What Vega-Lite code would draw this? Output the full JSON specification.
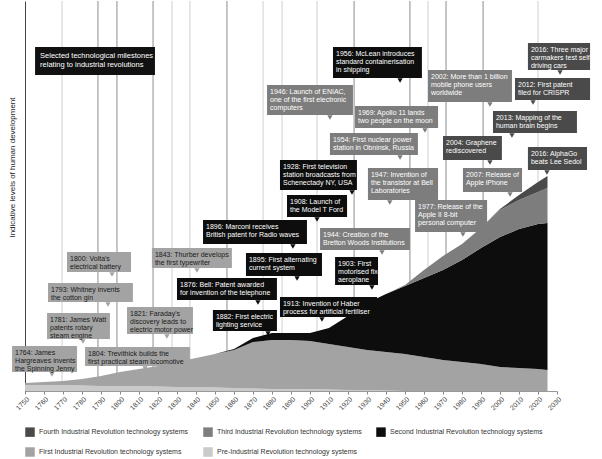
{
  "$schema": "https://vega.github.io/schema/vega-lite/v6.json",
  "width": 532,
  "height": 390,
  "autosize": {"type": "none"},
  "padding": {"left": 25, "top": 1, "right": 45, "bottom": 68},
  "background": "white",
  "config": {
    "view": {"stroke": null},
    "font": "Liberation Sans",
    "axisX": {"format": "d", "labelAngle": -45, "labelFontSize": 7, "labelColor": "#444444", "tickSize": 3, "tickColor": "#888888", "domainColor": "#999999", "labelPadding": 1, "grid": false, "labelFlush": false, "labelOverlap": false, "tickCount": 40},
    "axisY": {"labels": false, "ticks": false, "grid": false, "domainColor": "#444444", "titleFontSize": 8, "titleFontWeight": "normal", "titleColor": "#222222", "titlePadding": 9, "titleY": 166},
    "legend": {"labelFontSize": 7, "labelColor": "#333333", "symbolType": "square", "symbolSize": 90, "symbolStrokeWidth": 0, "columnPadding": 14, "rowPadding": 10, "labelLimit": 300}
  },
  "datasets": {
    "grid_dark": [{"year": 1788.4}, {"year": 1798.4}, {"year": 1817.4}, {"year": 1856.3}, {"year": 1923.2}, {"year": 1952.6}, {"year": 1971.6}, {"year": 1991.1}],
    "grid_light": [{"year": 1769.5}, {"year": 1827.4}, {"year": 1836.8}, {"year": 1875.3}, {"year": 1885.3}, {"year": 1903.7}, {"year": 1962.1}, {"year": 2020}],
    "areas": [
      {"year":1750,"era":"Pre-Industrial Revolution technology systems","rank":0,"level":6},
      {"year":1760,"era":"Pre-Industrial Revolution technology systems","rank":0,"level":6},
      {"year":1770,"era":"Pre-Industrial Revolution technology systems","rank":0,"level":6},
      {"year":1780,"era":"Pre-Industrial Revolution technology systems","rank":0,"level":5.5},
      {"year":1790,"era":"Pre-Industrial Revolution technology systems","rank":0,"level":5},
      {"year":1800,"era":"Pre-Industrial Revolution technology systems","rank":0,"level":5},
      {"year":1810,"era":"Pre-Industrial Revolution technology systems","rank":0,"level":5},
      {"year":1820,"era":"Pre-Industrial Revolution technology systems","rank":0,"level":4.5},
      {"year":1830,"era":"Pre-Industrial Revolution technology systems","rank":0,"level":4},
      {"year":1840,"era":"Pre-Industrial Revolution technology systems","rank":0,"level":4},
      {"year":1850,"era":"Pre-Industrial Revolution technology systems","rank":0,"level":3.5},
      {"year":1860,"era":"Pre-Industrial Revolution technology systems","rank":0,"level":3},
      {"year":1870,"era":"Pre-Industrial Revolution technology systems","rank":0,"level":2.5},
      {"year":1880,"era":"Pre-Industrial Revolution technology systems","rank":0,"level":2},
      {"year":1890,"era":"Pre-Industrial Revolution technology systems","rank":0,"level":2},
      {"year":1900,"era":"Pre-Industrial Revolution technology systems","rank":0,"level":2},
      {"year":1910,"era":"Pre-Industrial Revolution technology systems","rank":0,"level":1.5},
      {"year":1920,"era":"Pre-Industrial Revolution technology systems","rank":0,"level":1},
      {"year":1930,"era":"Pre-Industrial Revolution technology systems","rank":0,"level":1},
      {"year":1940,"era":"Pre-Industrial Revolution technology systems","rank":0,"level":0.5},
      {"year":1950,"era":"Pre-Industrial Revolution technology systems","rank":0,"level":0},
      {"year":1960,"era":"Pre-Industrial Revolution technology systems","rank":0,"level":0},
      {"year":1970,"era":"Pre-Industrial Revolution technology systems","rank":0,"level":0},
      {"year":1980,"era":"Pre-Industrial Revolution technology systems","rank":0,"level":0},
      {"year":1990,"era":"Pre-Industrial Revolution technology systems","rank":0,"level":0},
      {"year":2000,"era":"Pre-Industrial Revolution technology systems","rank":0,"level":0},
      {"year":2010,"era":"Pre-Industrial Revolution technology systems","rank":0,"level":0},
      {"year":2020,"era":"Pre-Industrial Revolution technology systems","rank":0,"level":0},
      {"year":2025,"era":"Pre-Industrial Revolution technology systems","rank":0,"level":0},
      {"year":1750,"era":"First Industrial Revolution technology systems","rank":1,"level":2},
      {"year":1760,"era":"First Industrial Revolution technology systems","rank":1,"level":3},
      {"year":1770,"era":"First Industrial Revolution technology systems","rank":1,"level":4},
      {"year":1780,"era":"First Industrial Revolution technology systems","rank":1,"level":6.5},
      {"year":1790,"era":"First Industrial Revolution technology systems","rank":1,"level":10},
      {"year":1800,"era":"First Industrial Revolution technology systems","rank":1,"level":14},
      {"year":1810,"era":"First Industrial Revolution technology systems","rank":1,"level":17},
      {"year":1820,"era":"First Industrial Revolution technology systems","rank":1,"level":20.5},
      {"year":1830,"era":"First Industrial Revolution technology systems","rank":1,"level":25},
      {"year":1840,"era":"First Industrial Revolution technology systems","rank":1,"level":29},
      {"year":1850,"era":"First Industrial Revolution technology systems","rank":1,"level":33.5},
      {"year":1860,"era":"First Industrial Revolution technology systems","rank":1,"level":38},
      {"year":1870,"era":"First Industrial Revolution technology systems","rank":1,"level":46.5},
      {"year":1880,"era":"First Industrial Revolution technology systems","rank":1,"level":49},
      {"year":1890,"era":"First Industrial Revolution technology systems","rank":1,"level":49},
      {"year":1900,"era":"First Industrial Revolution technology systems","rank":1,"level":48},
      {"year":1910,"era":"First Industrial Revolution technology systems","rank":1,"level":45.5},
      {"year":1920,"era":"First Industrial Revolution technology systems","rank":1,"level":43},
      {"year":1930,"era":"First Industrial Revolution technology systems","rank":1,"level":40},
      {"year":1940,"era":"First Industrial Revolution technology systems","rank":1,"level":38.5},
      {"year":1950,"era":"First Industrial Revolution technology systems","rank":1,"level":37},
      {"year":1960,"era":"First Industrial Revolution technology systems","rank":1,"level":34},
      {"year":1970,"era":"First Industrial Revolution technology systems","rank":1,"level":31},
      {"year":1980,"era":"First Industrial Revolution technology systems","rank":1,"level":29},
      {"year":1990,"era":"First Industrial Revolution technology systems","rank":1,"level":27},
      {"year":2000,"era":"First Industrial Revolution technology systems","rank":1,"level":24},
      {"year":2010,"era":"First Industrial Revolution technology systems","rank":1,"level":23},
      {"year":2020,"era":"First Industrial Revolution technology systems","rank":1,"level":22},
      {"year":2025,"era":"First Industrial Revolution technology systems","rank":1,"level":21},
      {"year":1750,"era":"Second Industrial Revolution technology systems","rank":2,"level":0},
      {"year":1760,"era":"Second Industrial Revolution technology systems","rank":2,"level":0},
      {"year":1770,"era":"Second Industrial Revolution technology systems","rank":2,"level":0},
      {"year":1780,"era":"Second Industrial Revolution technology systems","rank":2,"level":0},
      {"year":1790,"era":"Second Industrial Revolution technology systems","rank":2,"level":0},
      {"year":1800,"era":"Second Industrial Revolution technology systems","rank":2,"level":0},
      {"year":1810,"era":"Second Industrial Revolution technology systems","rank":2,"level":0},
      {"year":1820,"era":"Second Industrial Revolution technology systems","rank":2,"level":0},
      {"year":1830,"era":"Second Industrial Revolution technology systems","rank":2,"level":0},
      {"year":1840,"era":"Second Industrial Revolution technology systems","rank":2,"level":0},
      {"year":1850,"era":"Second Industrial Revolution technology systems","rank":2,"level":0},
      {"year":1860,"era":"Second Industrial Revolution technology systems","rank":2,"level":1},
      {"year":1870,"era":"Second Industrial Revolution technology systems","rank":2,"level":4},
      {"year":1880,"era":"Second Industrial Revolution technology systems","rank":2,"level":7},
      {"year":1890,"era":"Second Industrial Revolution technology systems","rank":2,"level":7},
      {"year":1900,"era":"Second Industrial Revolution technology systems","rank":2,"level":8},
      {"year":1910,"era":"Second Industrial Revolution technology systems","rank":2,"level":16},
      {"year":1920,"era":"Second Industrial Revolution technology systems","rank":2,"level":31},
      {"year":1930,"era":"Second Industrial Revolution technology systems","rank":2,"level":47},
      {"year":1940,"era":"Second Industrial Revolution technology systems","rank":2,"level":58},
      {"year":1950,"era":"Second Industrial Revolution technology systems","rank":2,"level":68},
      {"year":1960,"era":"Second Industrial Revolution technology systems","rank":2,"level":79},
      {"year":1970,"era":"Second Industrial Revolution technology systems","rank":2,"level":90},
      {"year":1980,"era":"Second Industrial Revolution technology systems","rank":2,"level":102},
      {"year":1990,"era":"Second Industrial Revolution technology systems","rank":2,"level":116},
      {"year":2000,"era":"Second Industrial Revolution technology systems","rank":2,"level":130},
      {"year":2010,"era":"Second Industrial Revolution technology systems","rank":2,"level":139},
      {"year":2020,"era":"Second Industrial Revolution technology systems","rank":2,"level":145},
      {"year":2025,"era":"Second Industrial Revolution technology systems","rank":2,"level":147},
      {"year":1940,"era":"Third Industrial Revolution technology systems","rank":3,"level":0},
      {"year":1950,"era":"Third Industrial Revolution technology systems","rank":3,"level":1},
      {"year":1960,"era":"Third Industrial Revolution technology systems","rank":3,"level":8},
      {"year":1970,"era":"Third Industrial Revolution technology systems","rank":3,"level":14},
      {"year":1980,"era":"Third Industrial Revolution technology systems","rank":3,"level":16},
      {"year":1990,"era":"Third Industrial Revolution technology systems","rank":3,"level":20},
      {"year":2000,"era":"Third Industrial Revolution technology systems","rank":3,"level":27},
      {"year":2010,"era":"Third Industrial Revolution technology systems","rank":3,"level":29},
      {"year":2020,"era":"Third Industrial Revolution technology systems","rank":3,"level":32},
      {"year":2025,"era":"Third Industrial Revolution technology systems","rank":3,"level":35},
      {"year":1990,"era":"Fourth Industrial Revolution technology systems","rank":4,"level":0},
      {"year":2000,"era":"Fourth Industrial Revolution technology systems","rank":4,"level":1},
      {"year":2010,"era":"Fourth Industrial Revolution technology systems","rank":4,"level":5},
      {"year":2020,"era":"Fourth Industrial Revolution technology systems","rank":4,"level":10},
      {"year":2025,"era":"Fourth Industrial Revolution technology systems","rank":4,"level":12}
    ],
    "notes": [
      {"era":"First Industrial Revolution technology systems","x1":1743.2,"x2":1777.4,"top":45,"bottom":19,"ptr":1764.2,"lines":["1764: James","Hargreaves invents","the Spinning Jenny"]},
      {"era":"First Industrial Revolution technology systems","x1":1761.6,"x2":1794.7,"top":78,"bottom":52,"ptr":1780.5,"lines":["1781: James Watt","patents rotary","steam engine"]},
      {"era":"First Industrial Revolution technology systems","x1":1762.1,"x2":1806.8,"top":108,"bottom":89,"ptr":1793.7,"lines":["1793: Whitney invents","the cotton gin"]},
      {"era":"First Industrial Revolution technology systems","x1":1772.1,"x2":1805.8,"top":139,"bottom":119,"ptr":1795.8,"lines":["1800: Volta's","electrical battery"]},
      {"era":"First Industrial Revolution technology systems","x1":1781.6,"x2":1836.8,"top":44,"bottom":25,"ptr":1813.2,"lines":["1804: Trevithick builds the","first practical steam locomotive"]},
      {"era":"First Industrial Revolution technology systems","x1":1803.7,"x2":1838.4,"top":84,"bottom":57,"ptr":1824.7,"lines":["1821: Faraday's","discovery leads to","electric motor power"]},
      {"era":"First Industrial Revolution technology systems","x1":1816.8,"x2":1858.9,"top":143,"bottom":123,"ptr":1840.5,"lines":["1843: Thurber develops","the first typewriter"]},
      {"era":"Second Industrial Revolution technology systems","x1":1843.7,"x2":1898.4,"top":171,"bottom":147,"ptr":1891,"lines":["1896: Marconi receives","British patent for Radio waves"]},
      {"era":"Second Industrial Revolution technology systems","x1":1866.3,"x2":1906.3,"top":138,"bottom":115,"ptr":1893.2,"lines":["1895: First alternating","current system"]},
      {"era":"Second Industrial Revolution technology systems","x1":1830,"x2":1882.6,"top":113,"bottom":91,"ptr":1872.6,"lines":["1876: Bell: Patent awarded","for invention of the telephone"]},
      {"era":"Second Industrial Revolution technology systems","x1":1848.9,"x2":1882.6,"top":81,"bottom":60,"ptr":1877.9,"lines":["1882: First electric","lighting service"]},
      {"era":"Second Industrial Revolution technology systems","x1":1887.9,"x2":1919.5,"top":196,"bottom":174,"ptr":1903.7,"lines":["1908: Launch of","the Model T Ford"]},
      {"era":"Second Industrial Revolution technology systems","x1":1884.2,"x2":1924.7,"top":231,"bottom":201,"ptr":1922.1,"lines":["1928: First television","station broadcasts from","Schenectady NY, USA"]},
      {"era":"Second Industrial Revolution technology systems","x1":1884.2,"x2":1935.3,"top":94,"bottom":74,"ptr":1906.3,"lines":["1913: Invention of Haber","process for artificial fertiliser"]},
      {"era":"Second Industrial Revolution technology systems","x1":1913.2,"x2":1935.8,"top":134,"bottom":106,"ptr":1932.6,"lines":["1903: First","motorised fixed","aeroplane"]},
      {"era":"Second Industrial Revolution technology systems","x1":1912.1,"x2":1958.9,"top":344,"bottom":313,"ptr":1947.4,"lines":["1956: McLean introduces","standard containerisation","in shipping"]},
      {"era":"Third Industrial Revolution technology systems","x1":1877.4,"x2":1922.6,"top":306,"bottom":276,"ptr":1910.5,"lines":["1946: Launch of ENIAC,","one of the first electronic","computers"]},
      {"era":"Third Industrial Revolution technology systems","x1":1923.7,"x2":1967.4,"top":285,"bottom":263,"ptr":1960.5,"lines":["1969: Apollo 11 lands","two people on the moon"]},
      {"era":"Third Industrial Revolution technology systems","x1":1910.5,"x2":1956.8,"top":258,"bottom":236,"ptr":1947.4,"lines":["1954: First nuclear power","station in Obninsk, Russia"]},
      {"era":"Third Industrial Revolution technology systems","x1":1930.5,"x2":1967.4,"top":223,"bottom":191,"ptr":1942,"lines":["1947: Invention of","the transistor at Bell","Laboratories"]},
      {"era":"Third Industrial Revolution technology systems","x1":1905.3,"x2":1952.6,"top":163,"bottom":141,"ptr":1937.9,"lines":["1944: Creation of the","Bretton Woods Institutions"]},
      {"era":"Third Industrial Revolution technology systems","x1":1955.3,"x2":1993.2,"top":191,"bottom":159,"ptr":1980.5,"lines":["1977: Release of the","Apple II 8-bit","personal computer"]},
      {"era":"Third Industrial Revolution technology systems","x1":1962.1,"x2":2006.3,"top":321,"bottom":289,"ptr":1994.7,"lines":["2002: More than 1 billion","mobile phone users","worldwide"]},
      {"era":"Fourth Industrial Revolution technology systems","x1":1970,"x2":2001,"top":255,"bottom":231,"ptr":1994.7,"lines":["2004: Graphene","rediscovered"]},
      {"era":"Third Industrial Revolution technology systems","x1":1980.5,"x2":2011.6,"top":223,"bottom":199,"ptr":2005.3,"lines":["2007: Release of","Apple iPhone"]},
      {"era":"Fourth Industrial Revolution technology systems","x1":1996.3,"x2":2040.5,"top":280,"bottom":258,"ptr":2006.3,"lines":["2013: Mapping of the","human brain begins"]},
      {"era":"Fourth Industrial Revolution technology systems","x1":2007.9,"x2":2047.4,"top":313,"bottom":291,"ptr":2017.4,"lines":["2012: First patent","filed for CRISPR"]},
      {"era":"Fourth Industrial Revolution technology systems","x1":2014.7,"x2":2047.4,"top":348,"bottom":321,"ptr":2031.6,"lines":["2016: Three major","carmakers test self-","driving cars"]},
      {"era":"Fourth Industrial Revolution technology systems","x1":2014.7,"x2":2045.8,"top":244,"bottom":221,"ptr":2024.7,"lines":["2016: AlphaGo","beats Lee Sedol"]}
    ],
    "titlebox": [
      {"x1":1755.3,"x2":1818.4,"top":344,"bottom":316,"lines":["Selected technological milestones","relating to industrial revolutions"]}
    ]
  },
  "layer": [
    {
      "data": {"name": "grid_light"},
      "mark": {"type": "rule", "color": "#cfcfcf", "strokeWidth": 1},
      "encoding": {"x": {"field": "year", "type": "quantitative", "scale": {"domain": [1750, 2030], "nice": false, "zero": false}, "title": null, "axis": {"values": [1750,1760,1770,1780,1790,1800,1810,1820,1830,1840,1850,1860,1870,1880,1890,1900,1910,1920,1930,1940,1950,1960,1970,1980,1990,2000,2010,2020,2030], "tickCount": 40, "labelOverlap": false, "labelAngle": -45, "format": "d"}}}
    },
    {
      "data": {"name": "grid_dark"},
      "mark": {"type": "rule", "color": "#8c8c8c", "strokeWidth": 1},
      "encoding": {"x": {"field": "year", "type": "quantitative", "title": null}}
    },
    {
      "data": {"name": "areas"},
      "mark": {"type": "area", "interpolate": "linear"},
      "encoding": {
        "x": {"field": "year", "type": "quantitative", "title": null},
        "y": {"field": "level", "type": "quantitative", "stack": "zero", "scale": {"domain": [0, 390], "nice": false}, "title": "Indicative levels of human development"},
        "order": {"field": "rank", "type": "quantitative"},
        "color": {"field": "era", "type": "nominal", "scale": {"domain": ["Fourth Industrial Revolution technology systems", "Third Industrial Revolution technology systems", "Second Industrial Revolution technology systems", "First Industrial Revolution technology systems", "Pre-Industrial Revolution technology systems"], "range": ["#4a4a4a", "#7d7d7d", "#0d0d0d", "#a3a3a3", "#cacaca"]}, "legend": {"orient": "bottom", "direction": "horizontal", "columns": 3, "title": null, "offset": 16}}
      }
    },
    {
      "data": {"name": "notes"},
      "mark": {"type": "rect"},
      "encoding": {
        "x": {"field": "x1", "type": "quantitative", "title": null},
        "x2": {"field": "x2"},
        "y": {"field": "top", "type": "quantitative", "title": "Indicative levels of human development"},
        "y2": {"field": "bottom"},
        "color": {"field": "era", "type": "nominal"}
      }
    },
    {
      "data": {"name": "notes"},
      "mark": {"type": "point", "shape": "triangle-down", "filled": true, "opacity": 1, "size": 28, "yOffset": 2.5},
      "encoding": {
        "x": {"field": "ptr", "type": "quantitative", "title": null},
        "y": {"field": "bottom", "type": "quantitative", "title": "Indicative levels of human development"},
        "color": {"field": "era", "type": "nominal"}
      }
    },
    {
      "data": {"name": "notes"},
      "mark": {"type": "text", "align": "left", "baseline": "top", "dx": 3, "dy": 2.5, "fontSize": 7, "lineHeight": 8},
      "encoding": {
        "x": {"field": "x1", "type": "quantitative", "title": null},
        "y": {"field": "top", "type": "quantitative", "title": "Indicative levels of human development"},
        "text": {"field": "lines"},
        "color": {"condition": {"test": "datum.era === 'First Industrial Revolution technology systems'", "value": "#1a1a1a"}, "value": "#ffffff"}
      }
    },
    {
      "data": {"name": "titlebox"},
      "mark": {"type": "rect", "color": "#111111"},
      "encoding": {
        "x": {"field": "x1", "type": "quantitative", "title": null},
        "x2": {"field": "x2"},
        "y": {"field": "top", "type": "quantitative", "title": "Indicative levels of human development"},
        "y2": {"field": "bottom"}
      }
    },
    {
      "data": {"name": "titlebox"},
      "mark": {"type": "text", "align": "left", "baseline": "top", "dx": 5, "dy": 5, "fontSize": 7.5, "lineHeight": 9, "color": "#ffffff"},
      "encoding": {
        "x": {"field": "x1", "type": "quantitative", "title": null},
        "y": {"field": "top", "type": "quantitative", "title": "Indicative levels of human development"},
        "text": {"field": "lines"}
      }
    }
  ]
}
